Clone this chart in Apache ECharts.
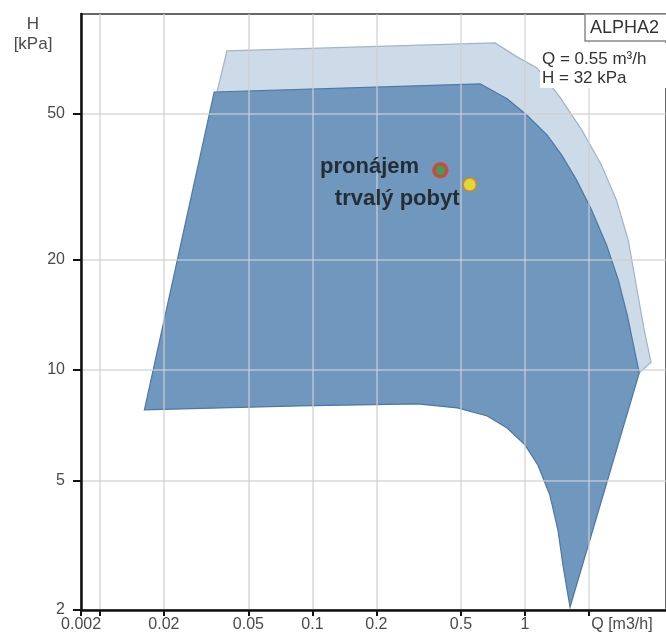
<!DOCTYPE html>
<html>
<head>
<meta charset="utf-8">
<script src="https://cdn.jsdelivr.net/npm/echarts@6/dist/echarts.min.js"></script>
<style>
html, body { margin: 0; padding: 0; background: #fff; }
#main { width: 666px; height: 635px; }
</style>
</head>
<body>
<div id="main"></div>
<script>
// pump range, outer (light) polygon: Q [m3/h], H [kPa]
const outerQ = [0.0396, 0.724, 0.918, 1.14, 1.46, 1.85, 2.29, 2.69, 3.06, 3.37, 3.64, 3.92, 3.45, 0.0191, 0.0356];
const outerH = [74.0, 77.8, 71.3, 66.5, 55.4, 45.1, 36.2, 29.1, 22.6, 16.5, 12.85, 10.5, 9.81, 8.28, 57.2];

// inner (dark) polygon
const innerQ = [0.0162, 0.0345, 0.616, 0.824, 1.02, 1.27, 1.49, 1.75, 2.06, 2.42, 2.75, 3.03, 3.45,
  1.63, 1.58, 1.51, 1.43, 1.31, 1.15, 1.0, 0.824, 0.665, 0.481, 0.313, 0.086];
const innerH = [7.78, 57.2, 60.2, 54.8, 49.5, 43.7, 38.5, 32.9, 27.3, 21.9, 17.6, 14.1, 9.81,
  2.26, 2.51, 2.94, 3.66, 4.56, 5.51, 6.25, 6.95, 7.49, 7.88, 8.08, 7.98];

// duty points
const pointNames = ['pronájem', 'trvalý pobyt'];
const pointQ = [0.4, 0.55];
const pointH = [35, 32];

// axes
const xMin = 0.00815, xMax = 4.61;
const yMin = 2.218, yMax = 93.3;
const xTicks = [0.00816, 0.01, 0.02, 0.05, 0.1, 0.2, 0.5, 1, 2];
const xLabelValues = [0.00816, 0.02, 0.05, 0.1, 0.2, 0.5, 1, 2];
const xLabels = ['0.002', '0.02', '0.05', '0.1', '0.2', '0.5', '1', '{q|Q [m3/h]}'];
const yTicks = [2.22, 5, 10, 20, 50];
const yLabels = ['2', '5', '10', '20', '50'];

const FONT = '"Liberation Sans", Arial, sans-serif';

function pickLabel(vals, labels) {
  return function (v) {
    let best = 0, d = Infinity;
    vals.forEach((t, i) => {
      const dd = Math.abs(Math.log(t) - Math.log(v));
      if (dd < d) { d = dd; best = i; }
    });
    return labels[best];
  };
}

function polygon(qs, hs, fill, stroke) {
  return function (params, api) {
    const pts = qs.map((q, i) => api.coord([q, hs[i]]));
    return {
      type: 'polygon',
      shape: { points: pts },
      style: { fill: fill, stroke: stroke, lineWidth: 1.2 }
    };
  };
}

const chart = echarts.init(document.getElementById('main'));

chart.setOption({
  animation: false,
  grid: {
    left: 81, right: -4, top: 14, bottom: 25,
    show: true, borderColor: '#666', borderWidth: 2, backgroundColor: 'transparent'
  },
  xAxis: {
    type: 'log', min: xMin, max: xMax, z: 3,
    axisLine: { onZero: false, lineStyle: { color: '#111', width: 2.5 } },
    axisTick: { customValues: xTicks, length: 6, lineStyle: { color: '#111', width: 2 } },
    axisLabel: {
      customValues: xLabelValues, margin: 7, fontSize: 16, color: '#4a4a4a', fontFamily: FONT,
      formatter: pickLabel(xLabelValues, xLabels),
      rich: { q: { fontSize: 16, color: '#4a4a4a', fontFamily: FONT, padding: [0, 0, 0, 66] } }
    },
    splitLine: { show: true, lineStyle: { color: 'rgba(208,208,208,0.8)', width: 1.5 } },
    minorTick: { show: false }, minorSplitLine: { show: false }
  },
  yAxis: {
    type: 'log', min: yMin, max: yMax, z: 3,
    axisLine: { onZero: false, lineStyle: { color: '#111', width: 2.5 } },
    axisTick: { customValues: yTicks, length: 8, lineStyle: { color: '#111', width: 2 } },
    axisLabel: {
      customValues: yTicks, margin: 16, fontSize: 16, color: '#4a4a4a', fontFamily: FONT,
      formatter: pickLabel(yTicks, yLabels)
    },
    splitLine: { show: true, lineStyle: { color: 'rgba(208,208,208,0.8)', width: 1.5 } },
    minorTick: { show: false }, minorSplitLine: { show: false }
  },
  graphic: [
    { type: 'text', x: 33, y: 14, z: 10,
      style: { text: 'H\n[kPa]', font: '17px ' + FONT, lineHeight: 20, fill: '#4a4a4a', align: 'center' } },
    { type: 'rect', shape: { x: 585, y: 14, width: 90, height: 27 }, z: 10,
      style: { fill: '#fff', stroke: '#8a8a8a', lineWidth: 1.5 } },
    { type: 'text', x: 590, y: 28, z: 11,
      style: { text: 'ALPHA2', font: '18px ' + FONT, fill: '#333', verticalAlign: 'middle' } },
    { type: 'rect', shape: { x: 540, y: 43, width: 130, height: 45 }, z: 10,
      style: { fill: '#fff' } },
    { type: 'text', x: 542, y: 59, z: 11,
      style: { text: 'Q = 0.55 m³/h', font: '17px ' + FONT, fill: '#333', verticalAlign: 'middle' } },
    { type: 'text', x: 542, y: 78, z: 11,
      style: { text: 'H = 32 kPa', font: '17px ' + FONT, fill: '#333', verticalAlign: 'middle' } }
  ],
  series: [
    {
      type: 'custom', z: 1, silent: true,
      renderItem: polygon(outerQ, outerH, '#cddae7', '#9fb5cc'),
      data: [[outerQ[0], outerH[0]]]
    },
    {
      type: 'custom', z: 1, silent: true,
      renderItem: polygon(innerQ, innerH, '#7097bd', '#4d78a5'),
      data: [[innerQ[0], innerH[0]]]
    },
    {
      type: 'scatter', z: 5, symbolSize: 13,
      data: pointNames.map((n, i) => ({
        name: n,
        value: [pointQ[i], pointH[i]],
        itemStyle: i === 0
          ? { color: '#3d9b3d', borderColor: '#e23a2a', borderWidth: 3.5 }
          : { color: '#ffe61c', borderColor: '#d98a00', borderWidth: 1.5 },
        label: {
          show: true, position: 'left', formatter: n,
          distance: i === 0 ? 13 : 3,
          offset: i === 0 ? [0, -3] : [0, 14],
          fontSize: 22, fontWeight: 'bold', color: '#111', fontFamily: FONT
        }
      }))
    }
  ]
});
</script>
</body>
</html>
